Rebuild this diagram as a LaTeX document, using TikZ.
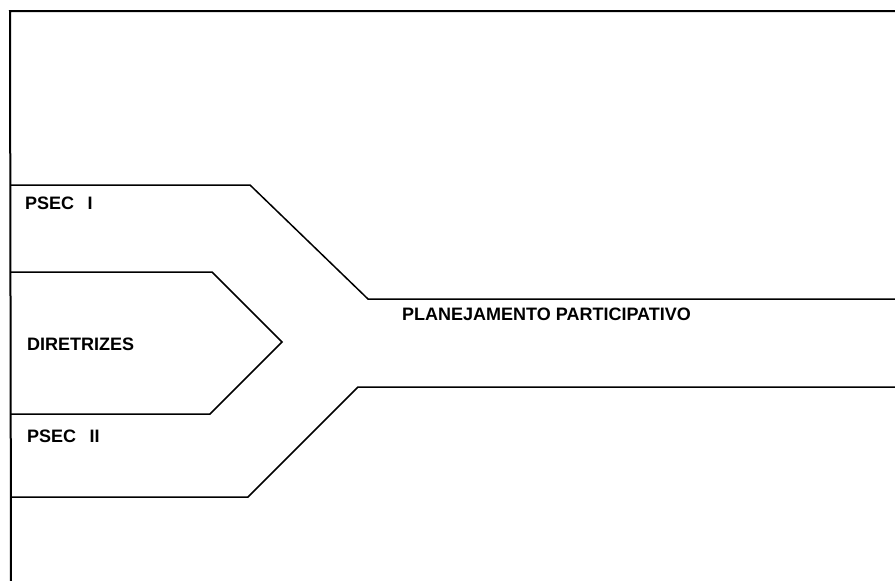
\documentclass[tikz,border=0pt]{standalone}
\usepackage{fontspec}
\setmainfont{Liberation Sans}
\usepackage{tikz}

\begin{document}
\begin{tikzpicture}[x=1pt, y=-1pt,
	rotulo/.style={anchor=base west, inner sep=0pt, font=\fontsize{18}{20}\selectfont\bfseries},
	moldura/.style={line width=2pt},
	faixa/.style={line width=1.5pt, line join=miter}]
	
	% Area do desenho
	\useasboundingbox (0, 0) rectangle (895, 581);
	
	% Moldura (topo e lado esquerdo)
	\draw[moldura] (895, 11) -- (10, 11) -- (11, 581);
	
	% Faixa PSEC I
	\draw[faixa] (11, 185) -- (250, 185) -- (368, 299) -- (895, 299);
	
	% Seta das diretrizes
	\draw[faixa] (11, 272) -- (212, 272) -- (282, 342) -- (210, 414) -- (11, 414);
	
	% Faixa PSEC II
	\draw[faixa] (895, 387) -- (358, 387) -- (248, 497) -- (11, 497);
	
	% Rotulos
	\node[rotulo] (psecI) at (25, 209) {PSEC\hspace{0.75em}I};
	\node[rotulo] (diretrizes) at (27, 350) {DIRETRIZES};
	\node[rotulo] (psecII) at (27, 442) {PSEC\hspace{0.75em}II};
	\node[rotulo] (planejamento) at (402, 320) {PLANEJAMENTO PARTICIPATIVO};
\end{tikzpicture}
\end{document}
